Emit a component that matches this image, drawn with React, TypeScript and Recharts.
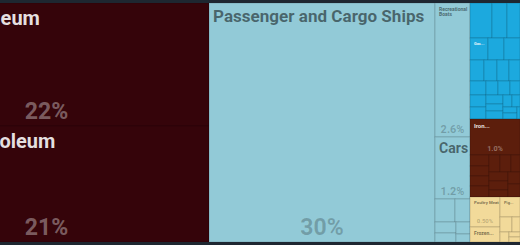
import React from "react";
import { Treemap } from "recharts";

const FONT = "Roboto, 'Noto Sans', sans-serif";

// shares of total exports, in percent
const mineralNames = ["Crude Petroleum", "Refined Petroleum"];
const mineralShares = [22.2, 20.9];

const transportNames = [
  "Passenger and Cargo Ships", "Recreational Boats", "Cars", "Vehicle Parts",
  "Special Purpose Ships", "Delivery Trucks", "Motorcycles", "Tractors", "Trailers",
];
const transportShares = [30, 2.6, 1.2, 0.25, 0.2, 0.13, 0.1, 0.09, 0.08];

const machineNames = [
  "Computers", "Broadcasting Equipment", "Telephones", "Gas Turbines", "Valves",
  "Electric Generating Sets", "Industrial Printers", "Air Pumps", "Centrifuges",
  "Liquid Pumps", "Electric Motors", "Electrical Transformers", "Insulated Wire",
  "Engine Parts", "Office Machine Parts", "Refrigerators", "Air Conditioners",
  "Spark-Ignition Engines", "Integrated Circuits", "Electrical Control Boards",
  "Cranes", "Low-voltage Protection Equipment", "Vacuum Cleaners", "Electric Heaters",
];
const machineShares = [
  0.42, 0.3, 0.26, 0.22, 0.2, 0.18, 0.16, 0.15, 0.14, 0.13, 0.12, 0.11,
  0.1, 0.09, 0.09, 0.08, 0.08, 0.07, 0.07, 0.06, 0.05, 0.05, 0.04, 0.04,
];

const metalNames = [
  "Iron Reinforcing Bars", "Iron Pipes", "Scrap Iron", "Copper Wire",
  "Aluminium Plating", "Iron Fasteners", "Raw Aluminium", "Iron Wire",
  "Iron Chains", "Other Iron Products", "Aluminium Foil", "Iron Blocks", "Copper Pipes",
];
const metalShares = [1.0, 0.12, 0.11, 0.11, 0.1, 0.1, 0.1, 0.1, 0.09, 0.09, 0.08, 0.08, 0.09];

const animalNames = [
  "Poultry Meat", "Frozen Bovine Meat", "Pig Meat", "Processed Fish",
  "Milk", "Eggs", "Butter", "Cheese",
];
const animalShares = [0.5, 0.25, 0.22, 0.1, 0.07, 0.05, 0.03, 0.03];

const sectionNames = ["Mineral Products", "Transportation", "Machines", "Metals", "Animal Products"];
const sectionProducts = [mineralNames, transportNames, machineNames, metalNames, animalNames];
const sectionShares = [mineralShares, transportShares, machineShares, metalShares, animalShares];

const sectionColors: Record<string, string> = {
  "Mineral Products": "#35040a",
  Transportation: "#92cad7",
  Machines: "#1ca9de",
  Metals: "#5c1e0c",
  "Animal Products": "#f2da9a",
};
const darkSections = ["Mineral Products", "Machines", "Metals"];

const data = sectionNames.map((section, i) => ({
  name: section,
  children: sectionProducts[i].map((name, j) => ({
    name,
    section,
    share: sectionShares[i][j],
  })),
}));

let ctx: CanvasRenderingContext2D | null = null;
function measure(text: string, size: number) {
  if (!ctx) ctx = document.createElement("canvas").getContext("2d");
  if (!ctx) return text.length * size * 0.58;
  ctx.font = `700 100px ${FONT}`;
  return (ctx.measureText(text).width * size * 1.05) / 100;
}

function wrap(name: string, avail: number, size: number) {
  const words = name.split(" ");
  const lines: string[] = [];
  let cur = "";
  for (const w of words) {
    if (measure(w, size) > avail) return null;
    const next = cur ? cur + " " + w : w;
    if (measure(next, size) <= avail) cur = next;
    else {
      lines.push(cur);
      cur = w;
    }
  }
  if (cur) lines.push(cur);
  return lines;
}

function fitTitle(name: string, w: number, h: number) {
  if (w < 12 || h < 8) return null;
  const avail = w - 4;
  // small tiles may go down to a tinier font than larger ones
  const minSingle = w * h < 1200 ? 4 : 5;
  const single = Math.min(20, avail / measure(name, 1), (h * 0.25) / 1.1);
  if (single >= minSingle) return { size: single, lines: [name] };
  if (w < h / 2) {
    for (let s = 20; s >= 4; s -= 0.25) {
      const lines = wrap(name, avail, s);
      if (lines && lines.length * s * 1.1 <= h * 0.25) return { size: s, lines };
    }
  }
  if (h < 15 || w < 18) return null;
  const t = Math.max(4, Math.min(6, w / 6));
  const words = name.split(" ");
  let best = "";
  for (let k = 1; k < words.length; k++) {
    const cand = words.slice(0, k).join(" ") + "...";
    if (measure(cand, t) <= avail) best = cand;
  }
  return best ? { size: t, lines: [best] } : null;
}

function formatShare(v: number) {
  if (v >= 10) return `${v.toFixed(0)}%`;
  if (v >= 1) return `${v.toFixed(1)}%`;
  return `${v.toFixed(2)}%`;
}

function Tile(props: any) {
  const { x, y, width: w, height: h, depth, name, section, share } = props;
  if (depth !== 2 || !w || !h) return null;
  const fill = sectionColors[section];
  const dark = darkSections.includes(section);
  const titleColor = dark ? "rgba(255,255,255,0.88)" : "rgba(0,0,0,0.5)";
  const pctColor = dark ? "rgba(255,255,255,0.36)" : "rgba(0,0,0,0.22)";

  const title = fitTitle(name, w, h);
  const titleH = title ? title.lines.length * title.size * 1.1 + 4 : 0;
  const pctSize = Math.min(23, w / 3.2, h / 5);
  const pctText = formatShare(share);
  const showPct =
    pctSize >= 5.5 && w >= 20 && h >= titleH + pctSize + 4 && measure(pctText, pctSize) <= w - 4;

  return (
    <g>
      <rect x={x} y={y} width={w} height={h} fill={fill} stroke="rgba(0,0,0,0.15)" strokeWidth={1} />
      {title &&
        title.lines.map((line, i) => (
          <text
            key={i}
            x={x + 4}
            y={y + 3 + title.size * 0.95 + i * title.size * 1.1}
            fontSize={title.size}
            fontWeight={700}
            fontFamily={FONT}
            fill={titleColor}
          >
            {line}
          </text>
        ))}
      {showPct && (
        <text
          x={x + w / 2}
          y={y + h - Math.max(4, pctSize * 0.3)}
          fontSize={pctSize}
          fontWeight={700}
          fontFamily={FONT}
          fill={pctColor}
          textAnchor="middle"
        >
          {pctText}
        </text>
      )}
    </g>
  );
}

export default function App() {
  return (
    <div
      style={{
        position: "absolute",
        left: 0,
        top: 0,
        width: 520,
        height: 245,
        overflow: "hidden",
        background: "#1e2731",
      }}
    >
      <div style={{ position: "absolute", left: -116, top: 3 }}>
        <Treemap
          width={636}
          height={239}
          data={data}
          dataKey="share"
          nameKey="name"
          isAnimationActive={false}
          content={(p: any) => <Tile {...p} />}
        />
      </div>
    </div>
  );
}
